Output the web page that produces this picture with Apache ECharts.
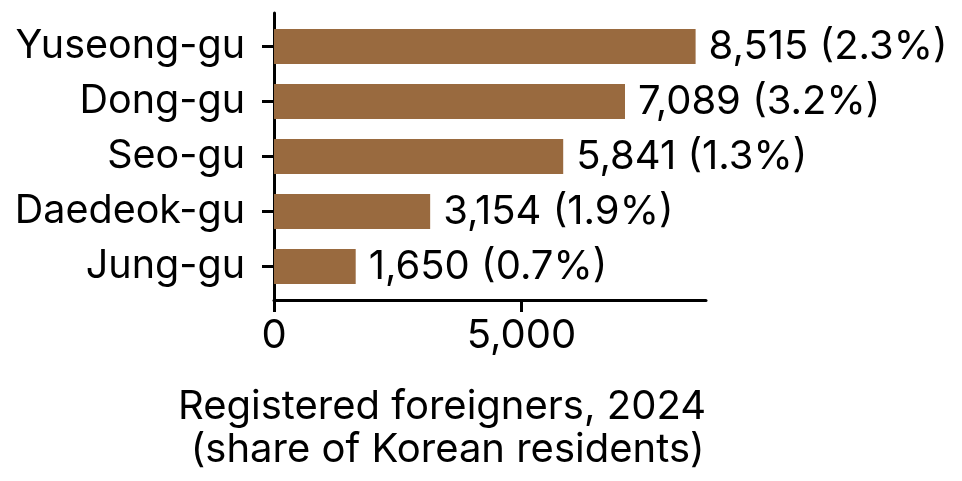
<!DOCTYPE html>
<html>
<head>
<meta charset="utf-8">
<script src="https://cdn.jsdelivr.net/npm/echarts@6/dist/echarts.min.js"></script>
<style>
  html, body { margin: 0; padding: 0; background: #fff; }
  #chart { width: 962px; height: 481px; }
</style>
</head>
<body>
<div id="chart"></div>
<script>
// 数据
const districts = ['Yuseong-gu', 'Dong-gu', 'Seo-gu', 'Daedeok-gu', 'Jung-gu'];
const foreigners = [8515, 7089, 5841, 3154, 1650];
const shares = [2.3, 3.2, 1.3, 1.9, 0.7];
const xTicks = [0, 5000];

const FONT = 'Inter';
const xMax = 8725;

const chart = echarts.init(document.getElementById('chart'), null, { renderer: 'canvas' });

const option = {
  animation: false,
  backgroundColor: '#ffffff',
  textStyle: { fontFamily: FONT, color: '#000' },
  grid: [
    // 柱子所在的网格
    { left: 274, top: 19, width: 432, height: 275 },
    // 外框坐标轴（带留白）
    { left: 274, top: 13, width: 432, height: 287 }
  ],
  xAxis: [
    { gridIndex: 0, type: 'value', min: 0, max: xMax, show: false },
    {
      gridIndex: 1, type: 'value', min: 0, max: xMax, interval: xTicks[1] - xTicks[0],
      axisLine: { show: true, lineStyle: { color: '#000', width: 3 } },
      axisTick: { show: true, length: 12, lineStyle: { color: '#000', width: 3 } },
      axisLabel: {
        fontFamily: FONT, fontSize: 40, color: '#000', margin: 16,
        showMaxLabel: false,
        formatter: v => xTicks.includes(v) ? v.toLocaleString('en-US') : ''
      },
      splitLine: { show: false },
      name: 'Registered foreigners, 2024\n (share of Korean residents)',
      nameLocation: 'middle',
      nameGap: 85,
      nameTextStyle: {
        fontFamily: FONT, fontSize: 40, color: '#000', lineHeight: 43,
        align: 'center', padding: [0, 96, 0, 0]
      }
    }
  ],
  yAxis: [
    {
      gridIndex: 0, type: 'category', data: districts, inverse: true,
      axisLine: { show: false },
      axisTick: { show: true, alignWithLabel: true, length: 12, lineStyle: { color: '#000', width: 3 } },
      axisLabel: { fontFamily: FONT, fontSize: 39.5, color: '#000', margin: 29 }
    },
    {
      gridIndex: 1, type: 'value', min: 0, max: 1,
      axisLine: { show: true, lineStyle: { color: '#000', width: 3 } },
      axisTick: { show: false },
      axisLabel: { show: false },
      splitLine: { show: false }
    }
  ],
  series: [{
    type: 'bar',
    xAxisIndex: 0,
    yAxisIndex: 0,
    data: foreigners,
    barWidth: 35,
    itemStyle: { color: '#996a3f' },
    label: {
      show: true,
      position: 'right',
      distance: 13,
      fontFamily: FONT,
      fontSize: 40,
      color: '#000',
      formatter: p => p.value.toLocaleString('en-US') + ' (' + shares[p.dataIndex].toFixed(1) + '%)'
    }
  }]
};

chart.setOption(option);
</script>
</body>
</html>
